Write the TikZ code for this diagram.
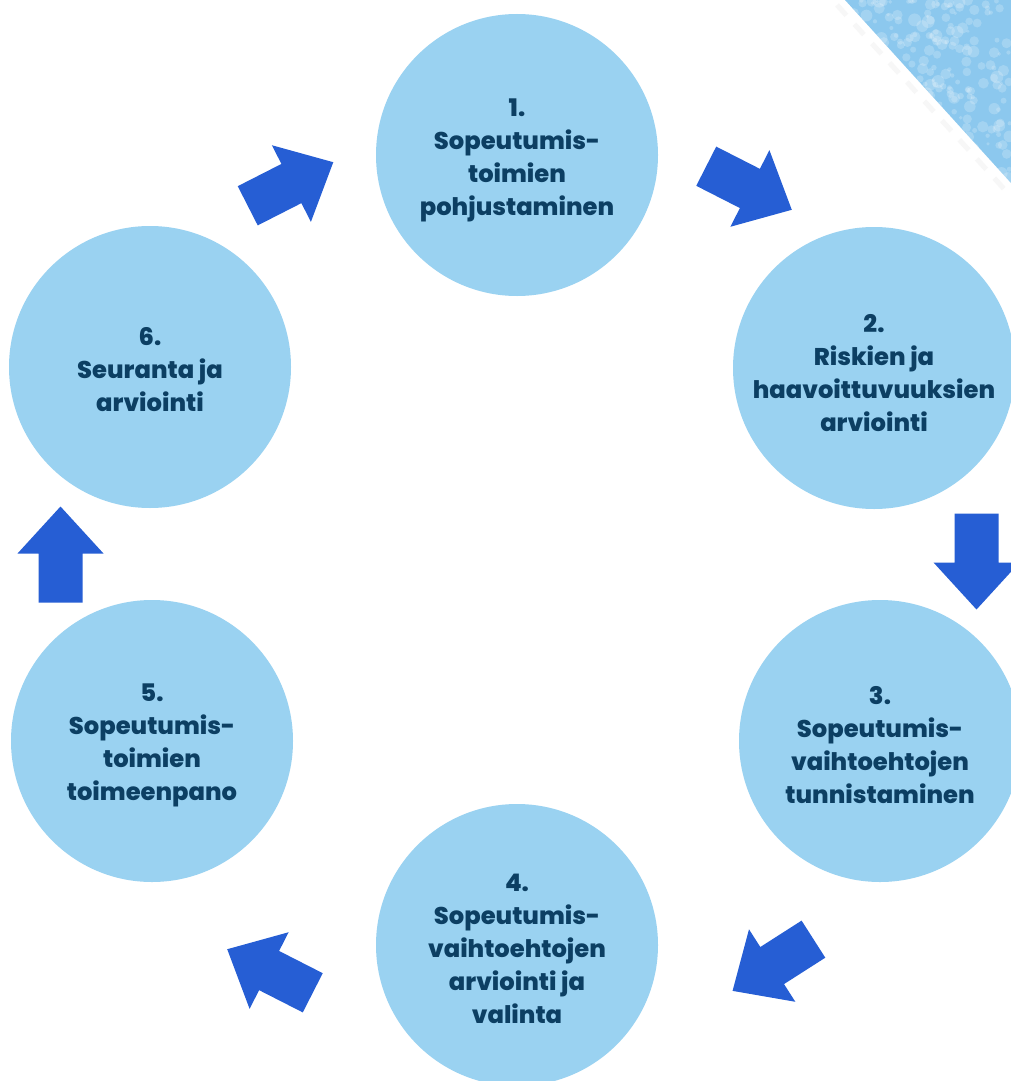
\documentclass[tikz,border=0pt]{standalone}
\usepackage{fontspec}
\setmainfont{Poppins}[BoldFont={Poppins ExtraBold}]
\definecolor{circ}{HTML}{9AD2F1}
\definecolor{txt}{HTML}{0C3F63}
\definecolor{arr}{HTML}{265ED4}
\definecolor{tex}{HTML}{8CC8EE}
\begin{document}
\begin{tikzpicture}[x=1pt,y=-1pt,
  stage/.style={circle, fill=circ, minimum size=282pt, inner sep=0pt},
  stagetext/.style={align=center, inner sep=0pt, text=txt,
    font=\fontsize{24.2}{33}\selectfont\bfseries},
  pics/blockarrow/.style={code={\fill[arr] (-48,-22) -- (1,-22) -- (1,-43) -- (48,0) -- (1,43) -- (1,22) -- (-48,22) -- cycle;}}]
\useasboundingbox (0,0) rectangle (1011,1081);
\fill[white] (0,0) rectangle (1011,1081);
\clip (0,0) rectangle (1011,1081);
% textured corner
\draw[black!3, line width=5pt, dash pattern=on 14pt off 12pt] (837,5) -- (1005,190);
\begin{scope}
\clip (845,0) -- (1011,0) -- (1011,183) -- cycle;
\fill[tex] (845,0) -- (1011,0) -- (1011,183) -- cycle;
\pgfmathsetseed{11}
\foreach \i in {1,...,300}{
  \pgfmathsetmacro\xx{845+166*rnd}
  \pgfmathsetmacro\yy{183*rnd}
  \pgfmathsetmacro\rr{1.5+5*rnd}
  \fill[white, opacity=0.2] (\xx,\yy) circle[radius=\rr];
}
\end{scope}
% stages
\node[stage] (s1) at (517,155) {};
\node[stage] (s2) at (874,368) {};
\node[stage] (s3) at (880,741) {};
\node[stage] (s4) at (517,945) {};
\node[stage] (s5) at (152,741) {};
\node[stage] (s6) at (150,367) {};
\node[stagetext, yshift=-5pt] (t1) at (s1.center) {1.\\Sopeutumis-\\toimien\\pohjustaminen};
\node[stagetext, yshift=-5pt] (t2) at (s2.center) {2.\\Riskien ja\\haavoittuvuuksien\\arviointi};
\node[stagetext, yshift=-4pt] (t3) at (s3.center) {3.\\Sopeutumis-\\vaihtoehtojen\\tunnistaminen};
\node[stagetext, yshift=-4pt] (t4) at (s4.center) {4.\\Sopeutumis-\\vaihtoehtojen\\arviointi ja\\valinta};
\node[stagetext, yshift=-4pt] (t5) at (s5.center) {5.\\Sopeutumis-\\toimien\\toimeenpano};
\node[stagetext, yshift=-3pt] (t6) at (s6.center) {6.\\Seuranta ja\\arviointi};
% block arrows
\pic[rotate=-27] at (749,188) {blockarrow};
\pic[rotate=-90] at (976.5,561.5) {blockarrow};
\pic[rotate=212.6] at (773,965) {blockarrow};
\pic[rotate=153] at (270,971) {blockarrow};
\pic[rotate=90] at (60.5,554.5) {blockarrow};
\pic[rotate=27] at (290.5,184) {blockarrow};
\end{tikzpicture}
\end{document}
